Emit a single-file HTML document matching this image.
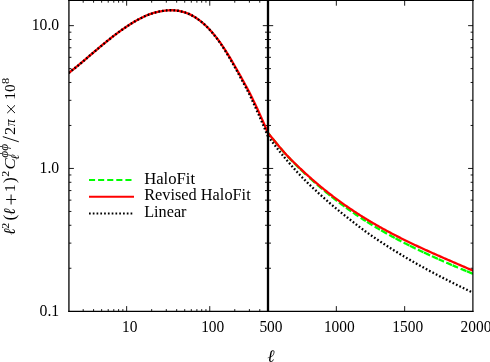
<!DOCTYPE html>
<html><head><meta charset="utf-8"><title>plot</title>
<style>html,body{margin:0;padding:0;background:#fff;}svg{display:block;will-change:transform;}text{font-family:"Liberation Serif",serif;fill:#000;}</style>
</head><body>
<svg width="490" height="362" viewBox="0 0 490 362">
<rect x="0" y="0" width="490" height="362" fill="#fff"/>
<g stroke="#000" stroke-width="0.9" fill="none">
<line x1="69.0" y1="268.26" x2="71.40" y2="268.26"/>
<line x1="265.00" y1="268.26" x2="271.00" y2="268.26"/>
<line x1="470.60" y1="268.26" x2="473.0" y2="268.26"/>
<line x1="69.0" y1="243.12" x2="71.40" y2="243.12"/>
<line x1="265.00" y1="243.12" x2="271.00" y2="243.12"/>
<line x1="470.60" y1="243.12" x2="473.0" y2="243.12"/>
<line x1="69.0" y1="225.28" x2="71.40" y2="225.28"/>
<line x1="265.00" y1="225.28" x2="271.00" y2="225.28"/>
<line x1="470.60" y1="225.28" x2="473.0" y2="225.28"/>
<line x1="69.0" y1="211.44" x2="71.40" y2="211.44"/>
<line x1="265.00" y1="211.44" x2="271.00" y2="211.44"/>
<line x1="470.60" y1="211.44" x2="473.0" y2="211.44"/>
<line x1="69.0" y1="200.13" x2="71.40" y2="200.13"/>
<line x1="265.00" y1="200.13" x2="271.00" y2="200.13"/>
<line x1="470.60" y1="200.13" x2="473.0" y2="200.13"/>
<line x1="69.0" y1="190.57" x2="71.40" y2="190.57"/>
<line x1="265.00" y1="190.57" x2="271.00" y2="190.57"/>
<line x1="470.60" y1="190.57" x2="473.0" y2="190.57"/>
<line x1="69.0" y1="182.29" x2="71.40" y2="182.29"/>
<line x1="265.00" y1="182.29" x2="271.00" y2="182.29"/>
<line x1="470.60" y1="182.29" x2="473.0" y2="182.29"/>
<line x1="69.0" y1="174.98" x2="71.40" y2="174.98"/>
<line x1="265.00" y1="174.98" x2="271.00" y2="174.98"/>
<line x1="470.60" y1="174.98" x2="473.0" y2="174.98"/>
<line x1="69.0" y1="168.45" x2="73.90" y2="168.45"/>
<line x1="262.80" y1="168.45" x2="273.20" y2="168.45"/>
<line x1="468.10" y1="168.45" x2="473.0" y2="168.45"/>
<line x1="69.0" y1="125.46" x2="71.40" y2="125.46"/>
<line x1="265.00" y1="125.46" x2="271.00" y2="125.46"/>
<line x1="470.60" y1="125.46" x2="473.0" y2="125.46"/>
<line x1="69.0" y1="100.32" x2="71.40" y2="100.32"/>
<line x1="265.00" y1="100.32" x2="271.00" y2="100.32"/>
<line x1="470.60" y1="100.32" x2="473.0" y2="100.32"/>
<line x1="69.0" y1="82.48" x2="71.40" y2="82.48"/>
<line x1="265.00" y1="82.48" x2="271.00" y2="82.48"/>
<line x1="470.60" y1="82.48" x2="473.0" y2="82.48"/>
<line x1="69.0" y1="68.64" x2="71.40" y2="68.64"/>
<line x1="265.00" y1="68.64" x2="271.00" y2="68.64"/>
<line x1="470.60" y1="68.64" x2="473.0" y2="68.64"/>
<line x1="69.0" y1="57.33" x2="71.40" y2="57.33"/>
<line x1="265.00" y1="57.33" x2="271.00" y2="57.33"/>
<line x1="470.60" y1="57.33" x2="473.0" y2="57.33"/>
<line x1="69.0" y1="47.77" x2="71.40" y2="47.77"/>
<line x1="265.00" y1="47.77" x2="271.00" y2="47.77"/>
<line x1="470.60" y1="47.77" x2="473.0" y2="47.77"/>
<line x1="69.0" y1="39.49" x2="71.40" y2="39.49"/>
<line x1="265.00" y1="39.49" x2="271.00" y2="39.49"/>
<line x1="470.60" y1="39.49" x2="473.0" y2="39.49"/>
<line x1="69.0" y1="32.18" x2="71.40" y2="32.18"/>
<line x1="265.00" y1="32.18" x2="271.00" y2="32.18"/>
<line x1="470.60" y1="32.18" x2="473.0" y2="32.18"/>
<line x1="69.0" y1="25.65" x2="73.90" y2="25.65"/>
<line x1="262.80" y1="25.65" x2="273.20" y2="25.65"/>
<line x1="468.10" y1="25.65" x2="473.0" y2="25.65"/>
<line x1="83.20" y1="311.3" x2="83.20" y2="309.10"/>
<line x1="83.20" y1="0.5" x2="83.20" y2="2.70"/>
<line x1="93.58" y1="311.3" x2="93.58" y2="309.10"/>
<line x1="93.58" y1="0.5" x2="93.58" y2="2.70"/>
<line x1="101.63" y1="311.3" x2="101.63" y2="309.10"/>
<line x1="101.63" y1="0.5" x2="101.63" y2="2.70"/>
<line x1="108.21" y1="311.3" x2="108.21" y2="309.10"/>
<line x1="108.21" y1="0.5" x2="108.21" y2="2.70"/>
<line x1="113.78" y1="311.3" x2="113.78" y2="309.10"/>
<line x1="113.78" y1="0.5" x2="113.78" y2="2.70"/>
<line x1="118.60" y1="311.3" x2="118.60" y2="309.10"/>
<line x1="118.60" y1="0.5" x2="118.60" y2="2.70"/>
<line x1="122.85" y1="311.3" x2="122.85" y2="309.10"/>
<line x1="122.85" y1="0.5" x2="122.85" y2="2.70"/>
<line x1="126.65" y1="311.3" x2="126.65" y2="306.10"/>
<line x1="126.65" y1="0.5" x2="126.65" y2="5.70"/>
<line x1="151.67" y1="311.3" x2="151.67" y2="309.10"/>
<line x1="151.67" y1="0.5" x2="151.67" y2="2.70"/>
<line x1="166.30" y1="311.3" x2="166.30" y2="309.10"/>
<line x1="166.30" y1="0.5" x2="166.30" y2="2.70"/>
<line x1="176.68" y1="311.3" x2="176.68" y2="309.10"/>
<line x1="176.68" y1="0.5" x2="176.68" y2="2.70"/>
<line x1="184.73" y1="311.3" x2="184.73" y2="309.10"/>
<line x1="184.73" y1="0.5" x2="184.73" y2="2.70"/>
<line x1="191.31" y1="311.3" x2="191.31" y2="309.10"/>
<line x1="191.31" y1="0.5" x2="191.31" y2="2.70"/>
<line x1="196.88" y1="311.3" x2="196.88" y2="309.10"/>
<line x1="196.88" y1="0.5" x2="196.88" y2="2.70"/>
<line x1="201.70" y1="311.3" x2="201.70" y2="309.10"/>
<line x1="201.70" y1="0.5" x2="201.70" y2="2.70"/>
<line x1="205.95" y1="311.3" x2="205.95" y2="309.10"/>
<line x1="205.95" y1="0.5" x2="205.95" y2="2.70"/>
<line x1="209.75" y1="311.3" x2="209.75" y2="306.10"/>
<line x1="209.75" y1="0.5" x2="209.75" y2="5.70"/>
<line x1="234.77" y1="311.3" x2="234.77" y2="309.10"/>
<line x1="234.77" y1="0.5" x2="234.77" y2="2.70"/>
<line x1="249.40" y1="311.3" x2="249.40" y2="309.10"/>
<line x1="249.40" y1="0.5" x2="249.40" y2="2.70"/>
<line x1="259.78" y1="311.3" x2="259.78" y2="309.10"/>
<line x1="259.78" y1="0.5" x2="259.78" y2="2.70"/>
<line x1="336.33" y1="311.3" x2="336.33" y2="306.10"/>
<line x1="336.33" y1="0.5" x2="336.33" y2="5.70"/>
<line x1="404.67" y1="311.3" x2="404.67" y2="306.10"/>
<line x1="404.67" y1="0.5" x2="404.67" y2="5.70"/>
</g>
<g fill="none" stroke-linejoin="round">
<clipPath id="cl"><rect x="69.0" y="0" width="199.0" height="311.3"/></clipPath>
<clipPath id="cr"><rect x="268.0" y="0" width="205.0" height="311.3"/></clipPath>
<path d="M268.00,132.98 L268.37,133.44 L268.74,133.91 L269.11,134.37 L269.49,134.84 L269.86,135.30 L270.23,135.76 L270.60,136.22 M272.50,138.56 L273.31,139.56 L274.13,140.55 L274.94,141.54 L275.76,142.52 L276.57,143.51 L277.39,144.49 L278.20,145.47 M279.90,147.51 L280.71,148.49 L281.53,149.46 L282.34,150.42 L283.16,151.37 L283.97,152.32 L284.79,153.25 L285.60,154.17 M287.30,156.04 L288.09,156.88 L288.87,157.71 L289.66,158.54 L290.44,159.35 L291.23,160.16 L292.01,160.96 L292.80,161.76 M294.00,162.97 L294.74,163.71 L295.49,164.44 L296.23,165.18 L296.97,165.91 L297.71,166.64 L298.46,167.36 L299.20,168.09 M300.30,169.15 L301.11,169.94 L301.93,170.73 L302.74,171.50 L303.56,172.28 L304.37,173.05 L305.19,173.82 L306.00,174.58 M309.50,177.82 L310.30,178.55 L311.10,179.27 L311.90,180.00 L312.70,180.72 L313.50,181.43 L314.30,182.14 L315.10,182.85 M317.00,184.52 L317.76,185.18 L318.51,185.84 L319.27,186.50 L320.03,187.15 L320.79,187.79 L321.54,188.44 L322.30,189.08 M324.25,190.72 L325.09,191.41 L325.92,192.10 L326.76,192.79 L327.59,193.47 L328.43,194.15 L329.26,194.83 L330.10,195.50 M331.60,196.69 L332.39,197.32 L333.17,197.93 L333.96,198.55 L334.74,199.16 L335.53,199.77 L336.31,200.38 L337.10,200.98 M339.00,202.42 L339.80,203.03 L340.60,203.63 L341.40,204.22 L342.20,204.82 L343.00,205.41 L343.80,206.00 L344.60,206.59 M346.00,207.61 L346.76,208.16 L347.51,208.70 L348.27,209.24 L349.03,209.79 L349.79,210.32 L350.54,210.86 L351.30,211.39 M353.00,212.58 L353.79,213.12 L354.57,213.66 L355.36,214.19 L356.14,214.73 L356.93,215.26 L357.71,215.79 L358.50,216.31 M360.70,217.77 L361.44,218.25 L362.17,218.73 L362.91,219.21 L363.64,219.69 L364.38,220.16 L365.11,220.63 L365.85,221.10 M367.00,221.83 L367.79,222.32 L368.57,222.81 L369.36,223.30 L370.14,223.79 L370.93,224.27 L371.71,224.75 L372.50,225.23 M374.70,226.56 L375.46,227.02 L376.21,227.47 L376.97,227.92 L377.73,228.37 L378.49,228.81 L379.24,229.26 L380.00,229.70 M381.10,230.34 L381.94,230.82 L382.79,231.31 L383.63,231.79 L384.47,232.27 L385.31,232.75 L386.16,233.22 L387.00,233.70 M389.20,234.92 L389.99,235.36 L390.79,235.80 L391.58,236.23 L392.37,236.66 L393.16,237.09 L393.96,237.52 L394.75,237.95 M395.50,238.35 L396.34,238.80 L397.19,239.25 L398.03,239.69 L398.87,240.13 L399.71,240.57 L400.56,241.01 L401.40,241.45 M403.60,242.58 L404.43,243.00 L405.26,243.42 L406.09,243.84 L406.91,244.26 L407.74,244.68 L408.57,245.09 L409.40,245.50 M409.90,245.75 L410.73,246.16 L411.56,246.57 L412.39,246.98 L413.21,247.39 L414.04,247.79 L414.87,248.20 L415.70,248.60 M417.90,249.66 L418.69,250.03 L419.47,250.41 L420.26,250.78 L421.04,251.16 L421.83,251.53 L422.61,251.90 L423.40,252.27 M423.90,252.50 L424.79,252.91 L425.67,253.33 L426.56,253.74 L427.44,254.15 L428.33,254.55 L429.21,254.96 L430.10,255.36 M431.90,256.18 L432.77,256.58 L433.64,256.97 L434.51,257.37 L435.39,257.76 L436.26,258.15 L437.13,258.54 L438.00,258.93 M438.60,259.20 L439.37,259.55 L440.14,259.89 L440.91,260.23 L441.69,260.57 L442.46,260.92 L443.23,261.26 L444.00,261.60 M446.25,262.59 L447.07,262.95 L447.89,263.30 L448.71,263.66 L449.54,264.02 L450.36,264.38 L451.18,264.73 L452.00,265.08 M452.60,265.34 L453.37,265.67 L454.14,266.00 L454.91,266.33 L455.69,266.65 L456.46,266.98 L457.23,267.30 L458.00,267.63 M460.60,268.71 L461.43,269.06 L462.26,269.40 L463.09,269.74 L463.91,270.08 L464.74,270.42 L465.57,270.76 L466.40,271.10 M466.90,271.31 L467.77,271.67 L468.64,272.02 L469.51,272.38 L470.39,272.73 L471.26,273.09 L472.13,273.45 L473.00,273.80" stroke="#00ff00" stroke-width="2.3" clip-path="url(#cr)"/>
<path d="M68.60,73.02 L69.60,72.25 L70.60,71.48 L71.61,70.70 L72.61,69.91 L73.61,69.11 L74.61,68.31 L75.61,67.51 L76.62,66.69 L77.62,65.88 L78.62,65.05 L79.62,64.23 L80.62,63.40 L81.63,62.56 L82.63,61.72 L83.63,60.87 L84.63,60.02 L85.63,59.16 L86.64,58.30 L87.64,57.44 L88.64,56.58 L89.64,55.72 L90.64,54.86 L91.65,54.00 L92.65,53.15 L93.65,52.29 L94.65,51.44 L95.65,50.60 L96.66,49.76 L97.66,48.91 L98.66,48.08 L99.66,47.24 L100.66,46.40 L101.67,45.57 L102.67,44.74 L103.67,43.92 L104.67,43.09 L105.67,42.28 L106.68,41.46 L107.68,40.65 L108.68,39.85 L109.68,39.05 L110.68,38.25 L111.69,37.46 L112.69,36.68 L113.69,35.90 L114.69,35.14 L115.69,34.38 L116.70,33.62 L117.70,32.88 L118.70,32.14 L119.70,31.41 L120.70,30.69 L121.71,29.98 L122.71,29.28 L123.71,28.58 L124.71,27.89 L125.71,27.21 L126.72,26.54 L127.72,25.87 L128.72,25.22 L129.72,24.57 L130.72,23.93 L131.73,23.30 L132.73,22.69 L133.73,22.08 L134.73,21.49 L135.73,20.91 L136.74,20.33 L137.74,19.78 L138.74,19.23 L139.74,18.70 L140.74,18.18 L141.75,17.67 L142.75,17.18 L143.75,16.70 L144.75,16.24 L145.75,15.79 L146.76,15.36 L147.76,14.95 L148.76,14.56 L149.76,14.20 L150.76,13.85 L151.77,13.53 L152.77,13.22 L153.77,12.93 L154.77,12.65 L155.77,12.39 L156.78,12.15 L157.78,11.92 L158.78,11.70 L159.78,11.49 L160.78,11.29 L161.79,11.10 L162.79,10.93 L163.79,10.78 L164.79,10.64 L165.79,10.52 L166.80,10.42 L167.80,10.34 L168.80,10.28 L169.80,10.24 L170.81,10.23 L171.81,10.23 L172.81,10.26 L173.81,10.32 L174.81,10.39 L175.82,10.49 L176.82,10.61 L177.82,10.75 L178.82,10.92 L179.82,11.11 L180.83,11.32 L181.83,11.56 L182.83,11.82 L183.83,12.10 L184.83,12.40 L185.84,12.74 L186.84,13.10 L187.84,13.49 L188.84,13.91 L189.84,14.36 L190.85,14.85 L191.85,15.37 L192.85,15.92 L193.85,16.51 L194.85,17.12 L195.86,17.76 L196.86,18.43 L197.86,19.13 L198.86,19.85 L199.86,20.61 L200.87,21.40 L201.87,22.21 L202.87,23.06 L203.87,23.93 L204.87,24.84 L205.88,25.78 L206.88,26.74 L207.88,27.74 L208.88,28.77 L209.88,29.83 L210.89,30.92 L211.89,32.05 L212.89,33.20 L213.89,34.39 L214.89,35.61 L215.90,36.86 L216.90,38.14 L217.90,39.46 L218.90,40.81 L219.90,42.19 L220.91,43.61 L221.91,45.06 L222.91,46.54 L223.91,48.05 L224.91,49.60 L225.92,51.17 L226.92,52.77 L227.92,54.39 L228.92,56.04 L229.92,57.70 L230.93,59.39 L231.93,61.09 L232.93,62.81 L233.93,64.55 L234.93,66.29 L235.94,68.05 L236.94,69.81 L237.94,71.59 L238.94,73.36 L239.94,75.15 L240.95,76.94 L241.95,78.73 L242.95,80.54 L243.95,82.36 L244.95,84.19 L245.96,86.03 L246.96,87.89 L247.96,89.76 L248.96,91.66 L249.96,93.60 L250.97,95.58 L251.97,97.60 L252.97,99.65 L253.97,101.73 L254.97,103.83 L255.98,105.96 L256.98,108.10 L257.98,110.25 L258.98,112.43 L259.98,114.64 L260.99,116.88 L261.99,119.15 L262.99,121.44 L263.99,123.74 L264.99,126.06 L266.00,128.43 L267.00,130.85 L268.00,133.30" stroke="#ff0000" stroke-width="2.3" clip-path="url(#cl)"/>
<path d="M268.00,132.98 L269.03,134.25 L270.06,135.52 L271.09,136.79 L272.12,138.04 L273.15,139.29 L274.18,140.53 L275.21,141.76 L276.24,142.99 L277.27,144.21 L278.30,145.44 L279.33,146.66 L280.36,147.88 L281.39,149.09 L282.42,150.29 L283.45,151.47 L284.48,152.64 L285.51,153.79 L286.54,154.92 L287.57,156.02 L288.60,157.09 L289.63,158.16 L290.66,159.20 L291.69,160.24 L292.72,161.27 L293.75,162.28 L294.78,163.29 L295.81,164.29 L296.84,165.29 L297.87,166.27 L298.90,167.26 L299.93,168.24 L300.96,169.21 L301.99,170.18 L303.03,171.14 L304.06,172.09 L305.09,173.04 L306.12,173.98 L307.15,174.92 L308.18,175.84 L309.21,176.77 L310.24,177.68 L311.27,178.59 L312.30,179.50 L313.33,180.39 L314.36,181.29 L315.39,182.17 L316.42,183.05 L317.45,183.92 L318.48,184.79 L319.51,185.65 L320.54,186.51 L321.57,187.36 L322.60,188.20 L323.63,189.04 L324.66,189.87 L325.69,190.69 L326.72,191.51 L327.75,192.33 L328.78,193.14 L329.81,193.94 L330.84,194.74 L331.87,195.53 L332.90,196.31 L333.93,197.09 L334.96,197.87 L335.99,198.64 L337.02,199.40 L338.05,200.16 L339.08,200.91 L340.11,201.66 L341.14,202.40 L342.17,203.14 L343.20,203.87 L344.23,204.59 L345.26,205.32 L346.29,206.03 L347.32,206.75 L348.35,207.46 L349.38,208.16 L350.41,208.86 L351.44,209.56 L352.47,210.25 L353.50,210.93 L354.53,211.61 L355.56,212.29 L356.59,212.96 L357.62,213.63 L358.65,214.29 L359.68,214.95 L360.71,215.61 L361.74,216.26 L362.77,216.90 L363.80,217.54 L364.83,218.18 L365.86,218.81 L366.89,219.44 L367.92,220.07 L368.95,220.69 L369.98,221.30 L371.02,221.92 L372.05,222.53 L373.08,223.13 L374.11,223.73 L375.14,224.33 L376.17,224.92 L377.20,225.51 L378.23,226.10 L379.26,226.68 L380.29,227.26 L381.32,227.83 L382.35,228.41 L383.38,228.98 L384.41,229.54 L385.44,230.10 L386.47,230.66 L387.50,231.22 L388.53,231.77 L389.56,232.32 L390.59,232.86 L391.62,233.41 L392.65,233.95 L393.68,234.49 L394.71,235.02 L395.74,235.55 L396.77,236.08 L397.80,236.61 L398.83,237.13 L399.86,237.65 L400.89,238.17 L401.92,238.68 L402.95,239.20 L403.98,239.71 L405.01,240.21 L406.04,240.72 L407.07,241.22 L408.10,241.72 L409.13,242.22 L410.16,242.72 L411.19,243.21 L412.22,243.71 L413.25,244.20 L414.28,244.68 L415.31,245.17 L416.34,245.66 L417.37,246.14 L418.40,246.62 L419.43,247.10 L420.46,247.57 L421.49,248.05 L422.52,248.52 L423.55,249.00 L424.58,249.47 L425.61,249.94 L426.64,250.40 L427.67,250.87 L428.70,251.33 L429.73,251.80 L430.76,252.26 L431.79,252.72 L432.82,253.18 L433.85,253.64 L434.88,254.10 L435.91,254.56 L436.94,255.01 L437.97,255.47 L439.01,255.92 L440.04,256.37 L441.07,256.83 L442.10,257.28 L443.13,257.73 L444.16,258.18 L445.19,258.63 L446.22,259.08 L447.25,259.52 L448.28,259.97 L449.31,260.42 L450.34,260.87 L451.37,261.31 L452.40,261.76 L453.43,262.21 L454.46,262.65 L455.49,263.10 L456.52,263.54 L457.55,263.99 L458.58,264.44 L459.61,264.88 L460.64,265.33 L461.67,265.77 L462.70,266.22 L463.73,266.67 L464.76,267.11 L465.79,267.56 L466.82,268.01 L467.85,268.46 L468.88,268.90 L469.91,269.35 L470.94,269.80 L471.97,270.25 L473.00,270.70" stroke="#ff0000" stroke-width="2.3" clip-path="url(#cr)"/>
<path d="M68.60,73.02 L69.60,72.25 L70.60,71.48 L71.61,70.70 L72.61,69.91 L73.61,69.11 L74.61,68.31 L75.61,67.51 L76.62,66.69 L77.62,65.88 L78.62,65.05 L79.62,64.23 L80.62,63.40 L81.63,62.56 L82.63,61.72 L83.63,60.87 L84.63,60.02 L85.63,59.16 L86.64,58.30 L87.64,57.44 L88.64,56.58 L89.64,55.72 L90.64,54.86 L91.65,54.00 L92.65,53.15 L93.65,52.29 L94.65,51.44 L95.65,50.60 L96.66,49.76 L97.66,48.91 L98.66,48.08 L99.66,47.24 L100.66,46.40 L101.67,45.57 L102.67,44.74 L103.67,43.92 L104.67,43.09 L105.67,42.28 L106.68,41.46 L107.68,40.65 L108.68,39.85 L109.68,39.05 L110.68,38.25 L111.69,37.46 L112.69,36.68 L113.69,35.90 L114.69,35.14 L115.69,34.38 L116.70,33.62 L117.70,32.88 L118.70,32.14 L119.70,31.41 L120.70,30.69 L121.71,29.98 L122.71,29.28 L123.71,28.58 L124.71,27.89 L125.71,27.21 L126.72,26.54 L127.72,25.87 L128.72,25.22 L129.72,24.57 L130.72,23.93 L131.73,23.30 L132.73,22.69 L133.73,22.08 L134.73,21.49 L135.73,20.91 L136.74,20.33 L137.74,19.78 L138.74,19.23 L139.74,18.70 L140.74,18.18 L141.75,17.67 L142.75,17.18 L143.75,16.70 L144.75,16.24 L145.75,15.79 L146.76,15.36 L147.76,14.95 L148.76,14.56 L149.76,14.20 L150.76,13.85 L151.77,13.53 L152.77,13.22 L153.77,12.93 L154.77,12.65 L155.77,12.39 L156.78,12.15 L157.78,11.92 L158.78,11.70 L159.78,11.49 L160.78,11.29 L161.79,11.10 L162.79,10.93 L163.79,10.78 L164.79,10.64 L165.79,10.52 L166.80,10.42 L167.80,10.34 L168.80,10.28 L169.80,10.24 L170.81,10.23 L171.81,10.23 L172.81,10.26 L173.81,10.32 L174.81,10.39 L175.82,10.49 L176.82,10.61 L177.82,10.75 L178.82,10.92 L179.82,11.11 L180.83,11.32 L181.83,11.56 L182.83,11.82 L183.83,12.10 L184.83,12.40 L185.84,12.74 L186.84,13.10 L187.84,13.49 L188.84,13.91 L189.84,14.36 L190.85,14.85 L191.85,15.37 L192.85,15.92 L193.85,16.51 L194.85,17.12 L195.86,17.76 L196.86,18.43 L197.86,19.13 L198.86,19.85 L199.86,20.61 L200.87,21.40 L201.87,22.21 L202.87,23.06 L203.87,23.93 L204.87,24.84 L205.88,25.78 L206.88,26.77 L207.88,27.79 L208.88,28.86 L209.88,29.96 L210.89,31.10 L211.89,32.27 L212.89,33.47 L213.89,34.70 L214.89,35.96 L215.90,37.24 L216.90,38.56 L217.90,39.91 L218.90,41.29 L219.90,42.71 L220.91,44.16 L221.91,45.64 L222.91,47.16 L223.91,48.71 L224.91,50.29 L225.92,51.90 L226.92,53.54 L227.92,55.20 L228.92,56.88 L229.92,58.59 L230.93,60.32 L231.93,62.06 L232.93,63.82 L233.93,65.60 L234.93,67.39 L235.94,69.19 L236.94,71.01 L237.94,72.83 L238.94,74.65 L239.94,76.48 L240.95,78.33 L241.95,80.18 L242.95,82.04 L243.95,83.92 L244.95,85.81 L245.96,87.71 L246.96,89.64 L247.96,91.58 L248.96,93.55 L249.96,95.59 L250.97,97.68 L251.97,99.82 L252.97,102.00 L253.97,104.21 L254.97,106.44 L255.98,108.68 L256.98,110.92 L257.98,113.15 L258.98,115.38 L259.98,117.65 L260.99,119.95 L261.99,122.27 L262.99,124.61 L263.99,126.95 L264.99,129.31 L266.00,131.71 L267.00,134.14 L268.00,136.60" stroke="#000" stroke-width="2.3" stroke-dasharray="1.7 2.08" clip-path="url(#cl)"/>
<path d="M268.00,136.16 L269.03,137.58 L270.06,138.98 L271.09,140.37 L272.12,141.74 L273.15,143.11 L274.18,144.47 L275.21,145.81 L276.24,147.15 L277.27,148.47 L278.30,149.78 L279.33,151.08 L280.36,152.37 L281.39,153.65 L282.42,154.92 L283.45,156.18 L284.48,157.43 L285.51,158.67 L286.54,159.90 L287.57,161.12 L288.60,162.32 L289.63,163.52 L290.66,164.71 L291.69,165.89 L292.72,167.06 L293.75,168.22 L294.78,169.37 L295.81,170.52 L296.84,171.65 L297.87,172.77 L298.90,173.89 L299.93,174.99 L300.96,176.09 L301.99,177.17 L303.03,178.24 L304.06,179.29 L305.09,180.33 L306.12,181.36 L307.15,182.38 L308.18,183.38 L309.21,184.38 L310.24,185.37 L311.27,186.35 L312.30,187.32 L313.33,188.29 L314.36,189.25 L315.39,190.20 L316.42,191.15 L317.45,192.10 L318.48,193.04 L319.51,193.98 L320.54,194.92 L321.57,195.86 L322.60,196.79 L323.63,197.72 L324.66,198.64 L325.69,199.56 L326.72,200.47 L327.75,201.37 L328.78,202.27 L329.81,203.16 L330.84,204.05 L331.87,204.93 L332.90,205.80 L333.93,206.67 L334.96,207.53 L335.99,208.39 L337.02,209.24 L338.05,210.09 L339.08,210.93 L340.11,211.76 L341.14,212.60 L342.17,213.42 L343.20,214.24 L344.23,215.06 L345.26,215.87 L346.29,216.68 L347.32,217.49 L348.35,218.30 L349.38,219.12 L350.41,219.92 L351.44,220.73 L352.47,221.54 L353.50,222.34 L354.53,223.15 L355.56,223.95 L356.59,224.74 L357.62,225.54 L358.65,226.32 L359.68,227.11 L360.71,227.89 L361.74,228.66 L362.77,229.43 L363.80,230.20 L364.83,230.95 L365.86,231.70 L366.89,232.45 L367.92,233.18 L368.95,233.91 L369.98,234.63 L371.02,235.34 L372.05,236.05 L373.08,236.76 L374.11,237.46 L375.14,238.16 L376.17,238.85 L377.20,239.55 L378.23,240.24 L379.26,240.92 L380.29,241.60 L381.32,242.28 L382.35,242.96 L383.38,243.63 L384.41,244.30 L385.44,244.97 L386.47,245.63 L387.50,246.29 L388.53,246.94 L389.56,247.60 L390.59,248.25 L391.62,248.89 L392.65,249.54 L393.68,250.18 L394.71,250.82 L395.74,251.45 L396.77,252.09 L397.80,252.71 L398.83,253.34 L399.86,253.96 L400.89,254.59 L401.92,255.20 L402.95,255.82 L403.98,256.43 L405.01,257.04 L406.04,257.65 L407.07,258.25 L408.10,258.86 L409.13,259.46 L410.16,260.05 L411.19,260.65 L412.22,261.24 L413.25,261.83 L414.28,262.41 L415.31,263.00 L416.34,263.58 L417.37,264.16 L418.40,264.74 L419.43,265.31 L420.46,265.89 L421.49,266.46 L422.52,267.03 L423.55,267.59 L424.58,268.15 L425.61,268.72 L426.64,269.28 L427.67,269.83 L428.70,270.39 L429.73,270.94 L430.76,271.49 L431.79,272.04 L432.82,272.59 L433.85,273.14 L434.88,273.68 L435.91,274.22 L436.94,274.76 L437.97,275.30 L439.01,275.83 L440.04,276.37 L441.07,276.90 L442.10,277.43 L443.13,277.96 L444.16,278.49 L445.19,279.01 L446.22,279.54 L447.25,280.06 L448.28,280.58 L449.31,281.10 L450.34,281.62 L451.37,282.14 L452.40,282.65 L453.43,283.17 L454.46,283.68 L455.49,284.19 L456.52,284.70 L457.55,285.21 L458.58,285.71 L459.61,286.22 L460.64,286.72 L461.67,287.23 L462.70,287.73 L463.73,288.23 L464.76,288.73 L465.79,289.23 L466.82,289.72 L467.85,290.22 L468.88,290.72 L469.91,291.21 L470.94,291.70 L471.97,292.20 L473.00,292.69" stroke="#000" stroke-width="2.3" stroke-dasharray="1.7 2.08" clip-path="url(#cr)"/>
</g>
<g stroke="#000" fill="none" stroke-linecap="butt">
<line x1="68.93" y1="0" x2="68.93" y2="311.90000000000003" stroke-width="1.3"/>
<line x1="472.89" y1="0" x2="472.89" y2="311.90000000000003" stroke-width="1.2"/>
<line x1="68.2" y1="0.5" x2="473.8" y2="0.5" stroke-width="1.05" stroke="#000"/>
<line x1="68.3" y1="311.40000000000003" x2="473.5" y2="311.40000000000003" stroke-width="1.25"/>
<line x1="268.0" y1="0" x2="268.0" y2="311.90000000000003" stroke-width="2.3" stroke="#000"/>
</g>
<g font-size="15.9px">
<text x="31.80" y="30.20" textLength="27.4" lengthAdjust="spacingAndGlyphs">10.0</text>
<text x="39.50" y="173.00" textLength="19.7" lengthAdjust="spacingAndGlyphs">1.0</text>
<text x="39.50" y="315.80" textLength="19.7" lengthAdjust="spacingAndGlyphs">0.1</text>
<text x="121.93" y="332.45" textLength="15.44" lengthAdjust="spacingAndGlyphs">10</text>
<text x="201.17" y="332.45" textLength="23.16" lengthAdjust="spacingAndGlyphs">100</text>
<text x="259.42" y="332.45" textLength="23.16" lengthAdjust="spacingAndGlyphs">500</text>
<text x="323.89" y="332.45" textLength="30.88" lengthAdjust="spacingAndGlyphs">1000</text>
<text x="392.23" y="332.45" textLength="30.88" lengthAdjust="spacingAndGlyphs">1500</text>
<text x="460.56" y="332.45" textLength="30.88" lengthAdjust="spacingAndGlyphs">2000</text>
</g>
<text x="270.8" y="362.3" font-size="17.6px" font-style="italic" text-anchor="middle">&#x2113;</text>
<g fill="none" stroke-width="2">
<line x1="89.0" y1="180.0" x2="133.5" y2="180.0" stroke="#00ff00" stroke-dasharray="6.1 3.0"/>
<line x1="89.0" y1="196.7" x2="134.0" y2="196.7" stroke="#ff0000"/>
<line x1="89.0" y1="213.55" x2="133.5" y2="213.55" stroke="#000" stroke-dasharray="1.7 2.08"/>
</g>
<g font-size="15.9px">
<text x="144.2" y="183.7" textLength="50.9" lengthAdjust="spacingAndGlyphs">HaloFit</text>
<text x="144.2" y="200.35" textLength="106.5" lengthAdjust="spacingAndGlyphs">Revised HaloFit</text>
<text x="144.2" y="217.0" textLength="42.3" lengthAdjust="spacingAndGlyphs">Linear</text>
</g>
<g transform="translate(15.0,235.3) rotate(-90)" font-size="15.4px">
<text x="0.4" y="0" font-size="16.4px" font-style="italic" textLength="6.6" lengthAdjust="spacingAndGlyphs">&#x2113;</text>
<text x="6.6" y="-5.6" font-size="10.8px" textLength="6.0" lengthAdjust="spacingAndGlyphs">2</text>
<text x="14.7" y="0.2" font-size="17.5px">(</text>
<text x="20.4" y="0" font-size="16.4px" font-style="italic" textLength="6.6" lengthAdjust="spacingAndGlyphs">&#x2113;</text>
<line x1="30.8" y1="-3.9" x2="40.8" y2="-3.9" stroke="#000" stroke-width="0.95"/>
<line x1="35.8" y1="-8.9" x2="35.8" y2="1.1" stroke="#000" stroke-width="0.95"/>
<text x="43.2" y="0">1</text>
<text x="52.2" y="0.2" font-size="17.5px">)</text>
<text x="58.6" y="-5.6" font-size="10.8px" textLength="6.0" lengthAdjust="spacingAndGlyphs">2</text>
<text x="65.9" y="0" font-style="italic" textLength="11.2" lengthAdjust="spacingAndGlyphs">C</text>
<text x="75.6" y="3.9" font-size="11.8px" font-style="italic" textLength="5.2" lengthAdjust="spacingAndGlyphs">&#x2113;</text>
<text x="77.6" y="-6.6" font-size="12.0px" font-style="italic" textLength="13.8" lengthAdjust="spacingAndGlyphs">&#x3d5;&#x3d5;</text>
<line x1="93.5" y1="3.8" x2="98.7" y2="-12.2" stroke="#000" stroke-width="0.95"/>
<text x="100.4" y="0" textLength="8.2" lengthAdjust="spacingAndGlyphs">2</text>
<text x="109.0" y="0" font-style="italic" textLength="7.0" lengthAdjust="spacingAndGlyphs">&#x3c0;</text>
<line x1="122.2" y1="-7.8" x2="130.0" y2="0.0" stroke="#000" stroke-width="0.95"/>
<line x1="122.2" y1="0.0" x2="130.0" y2="-7.8" stroke="#000" stroke-width="0.95"/>
<text x="135.6" y="0">10</text>
<text x="151.2" y="-5.6" font-size="10.8px" textLength="6.2" lengthAdjust="spacingAndGlyphs">8</text>
</g>
</svg></body></html>
